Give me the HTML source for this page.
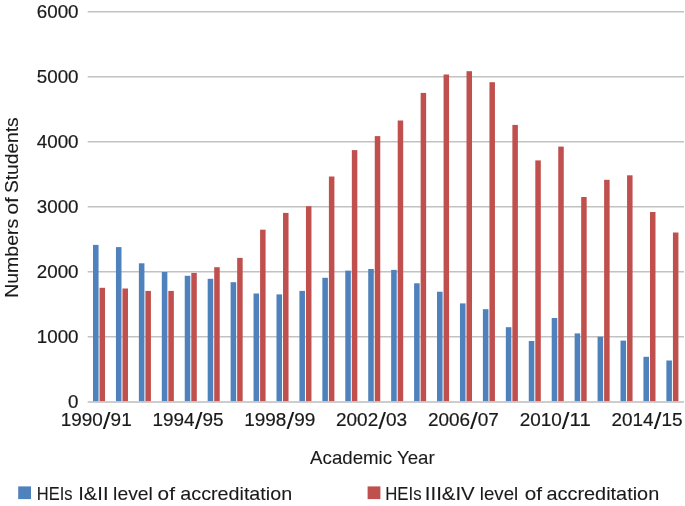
<!DOCTYPE html>
<html><head><meta charset="utf-8"><title>Chart</title>
<style>
html,body{margin:0;padding:0;background:#fff;}
body{width:685px;height:506px;overflow:hidden;}
svg{display:block;}
text{font-family:"Liberation Sans",sans-serif;fill:#1a1a1a;stroke:#1a1a1a;stroke-width:0.1px;font-size:19px;}
text.n{font-size:19.2px;stroke-width:0.2px;}
</style></head><body>
<svg width="685" height="506" viewBox="0 0 685 506">
<rect width="685" height="506" fill="#fff"/>
<line x1="87.7" x2="684" y1="11.75" y2="11.75" stroke="#c2c2c2" stroke-width="1.4"/>
<line x1="87.7" x2="684" y1="76.75" y2="76.75" stroke="#c2c2c2" stroke-width="1.4"/>
<line x1="87.7" x2="684" y1="141.75" y2="141.75" stroke="#c2c2c2" stroke-width="1.4"/>
<line x1="87.7" x2="684" y1="206.75" y2="206.75" stroke="#c2c2c2" stroke-width="1.4"/>
<line x1="87.7" x2="684" y1="271.75" y2="271.75" stroke="#c2c2c2" stroke-width="1.4"/>
<line x1="87.7" x2="684" y1="336.75" y2="336.75" stroke="#c2c2c2" stroke-width="1.4"/>
<rect x="93.00" y="244.90" width="5.55" height="156.40" fill="#4f81bd"/><rect x="99.55" y="287.80" width="5.5" height="113.50" fill="#c0504d"/>
<rect x="115.94" y="247.10" width="5.55" height="154.20" fill="#4f81bd"/><rect x="122.48" y="288.50" width="5.5" height="112.80" fill="#c0504d"/>
<rect x="138.87" y="263.30" width="5.55" height="138.00" fill="#4f81bd"/><rect x="145.42" y="290.90" width="5.5" height="110.40" fill="#c0504d"/>
<rect x="161.81" y="272.00" width="5.55" height="129.30" fill="#4f81bd"/><rect x="168.35" y="290.90" width="5.5" height="110.40" fill="#c0504d"/>
<rect x="184.74" y="275.80" width="5.55" height="125.50" fill="#4f81bd"/><rect x="191.29" y="272.90" width="5.5" height="128.40" fill="#c0504d"/>
<rect x="207.68" y="278.80" width="5.55" height="122.50" fill="#4f81bd"/><rect x="214.22" y="267.20" width="5.5" height="134.10" fill="#c0504d"/>
<rect x="230.61" y="282.20" width="5.55" height="119.10" fill="#4f81bd"/><rect x="237.16" y="257.90" width="5.5" height="143.40" fill="#c0504d"/>
<rect x="253.54" y="293.50" width="5.55" height="107.80" fill="#4f81bd"/><rect x="260.09" y="229.70" width="5.5" height="171.60" fill="#c0504d"/>
<rect x="276.48" y="294.40" width="5.55" height="106.90" fill="#4f81bd"/><rect x="283.03" y="212.90" width="5.5" height="188.40" fill="#c0504d"/>
<rect x="299.41" y="290.90" width="5.55" height="110.40" fill="#4f81bd"/><rect x="305.96" y="206.20" width="5.5" height="195.10" fill="#c0504d"/>
<rect x="322.35" y="277.80" width="5.55" height="123.50" fill="#4f81bd"/><rect x="328.90" y="176.50" width="5.5" height="224.80" fill="#c0504d"/>
<rect x="345.28" y="270.60" width="5.55" height="130.70" fill="#4f81bd"/><rect x="351.83" y="150.10" width="5.5" height="251.20" fill="#c0504d"/>
<rect x="368.22" y="269.00" width="5.55" height="132.30" fill="#4f81bd"/><rect x="374.77" y="136.10" width="5.5" height="265.20" fill="#c0504d"/>
<rect x="391.15" y="269.90" width="5.55" height="131.40" fill="#4f81bd"/><rect x="397.70" y="120.50" width="5.5" height="280.80" fill="#c0504d"/>
<rect x="414.09" y="283.30" width="5.55" height="118.00" fill="#4f81bd"/><rect x="420.64" y="92.90" width="5.5" height="308.40" fill="#c0504d"/>
<rect x="437.02" y="291.70" width="5.55" height="109.60" fill="#4f81bd"/><rect x="443.57" y="74.50" width="5.5" height="326.80" fill="#c0504d"/>
<rect x="459.96" y="303.40" width="5.55" height="97.90" fill="#4f81bd"/><rect x="466.51" y="71.20" width="5.5" height="330.10" fill="#c0504d"/>
<rect x="482.89" y="309.20" width="5.55" height="92.10" fill="#4f81bd"/><rect x="489.44" y="82.20" width="5.5" height="319.10" fill="#c0504d"/>
<rect x="505.83" y="327.20" width="5.55" height="74.10" fill="#4f81bd"/><rect x="512.38" y="124.90" width="5.5" height="276.40" fill="#c0504d"/>
<rect x="528.76" y="341.00" width="5.55" height="60.30" fill="#4f81bd"/><rect x="535.31" y="160.40" width="5.5" height="240.90" fill="#c0504d"/>
<rect x="551.70" y="318.00" width="5.55" height="83.30" fill="#4f81bd"/><rect x="558.25" y="146.60" width="5.5" height="254.70" fill="#c0504d"/>
<rect x="574.63" y="333.40" width="5.55" height="67.90" fill="#4f81bd"/><rect x="581.18" y="197.00" width="5.5" height="204.30" fill="#c0504d"/>
<rect x="597.57" y="336.70" width="5.55" height="64.60" fill="#4f81bd"/><rect x="604.12" y="179.80" width="5.5" height="221.50" fill="#c0504d"/>
<rect x="620.50" y="340.60" width="5.55" height="60.70" fill="#4f81bd"/><rect x="627.05" y="175.30" width="5.5" height="226.00" fill="#c0504d"/>
<rect x="643.44" y="356.80" width="5.55" height="44.50" fill="#4f81bd"/><rect x="649.99" y="212.00" width="5.5" height="189.30" fill="#c0504d"/>
<rect x="666.38" y="360.50" width="5.55" height="40.80" fill="#4f81bd"/><rect x="672.92" y="232.50" width="5.5" height="168.80" fill="#c0504d"/>
<line x1="87.7" x2="684" y1="402.0" y2="402.0" stroke="#bdbdbd" stroke-width="1.6"/>
<text class="n" y="18.25"><tspan x="36.78" textLength="41.75" lengthAdjust="spacingAndGlyphs">6000</tspan></text>
<text class="n" y="83.25"><tspan x="36.78" textLength="41.75" lengthAdjust="spacingAndGlyphs">5000</tspan></text>
<text class="n" y="148.25"><tspan x="36.78" textLength="41.75" lengthAdjust="spacingAndGlyphs">4000</tspan></text>
<text class="n" y="213.25"><tspan x="36.78" textLength="41.75" lengthAdjust="spacingAndGlyphs">3000</tspan></text>
<text class="n" y="278.25"><tspan x="36.78" textLength="41.75" lengthAdjust="spacingAndGlyphs">2000</tspan></text>
<text class="n" y="343.25"><tspan x="36.78" textLength="41.75" lengthAdjust="spacingAndGlyphs">1000</tspan></text>
<text class="n" y="408.20"><tspan x="68.08" textLength="10.40" lengthAdjust="spacingAndGlyphs">0</tspan></text>
<text class="n" y="426.2"><tspan x="60.68" textLength="42.08" lengthAdjust="spacingAndGlyphs">1990</tspan><tspan x="102.88" font-size="23.6" stroke="none" dy="2.6" textLength="7.79" lengthAdjust="spacingAndGlyphs">/</tspan><tspan x="110.58" dy="-2.6" textLength="21.13" lengthAdjust="spacingAndGlyphs">91</tspan></text>
<text class="n" y="426.2"><tspan x="152.48" textLength="42.08" lengthAdjust="spacingAndGlyphs">1994</tspan><tspan x="194.68" font-size="23.6" stroke="none" dy="2.6" textLength="7.79" lengthAdjust="spacingAndGlyphs">/</tspan><tspan x="202.38" dy="-2.6" textLength="21.13" lengthAdjust="spacingAndGlyphs">95</tspan></text>
<text class="n" y="426.2"><tspan x="244.28" textLength="42.08" lengthAdjust="spacingAndGlyphs">1998</tspan><tspan x="286.48" font-size="23.6" stroke="none" dy="2.6" textLength="7.79" lengthAdjust="spacingAndGlyphs">/</tspan><tspan x="294.18" dy="-2.6" textLength="21.13" lengthAdjust="spacingAndGlyphs">99</tspan></text>
<text class="n" y="426.2"><tspan x="336.08" textLength="42.08" lengthAdjust="spacingAndGlyphs">2002</tspan><tspan x="378.28" font-size="23.6" stroke="none" dy="2.6" textLength="7.79" lengthAdjust="spacingAndGlyphs">/</tspan><tspan x="385.98" dy="-2.6" textLength="21.13" lengthAdjust="spacingAndGlyphs">03</tspan></text>
<text class="n" y="426.2"><tspan x="427.88" textLength="42.08" lengthAdjust="spacingAndGlyphs">2006</tspan><tspan x="470.08" font-size="23.6" stroke="none" dy="2.6" textLength="7.79" lengthAdjust="spacingAndGlyphs">/</tspan><tspan x="477.78" dy="-2.6" textLength="21.13" lengthAdjust="spacingAndGlyphs">07</tspan></text>
<text class="n" y="426.2"><tspan x="519.68" textLength="42.08" lengthAdjust="spacingAndGlyphs">2010</tspan><tspan x="561.88" font-size="23.6" stroke="none" dy="2.6" textLength="7.79" lengthAdjust="spacingAndGlyphs">/</tspan><tspan x="569.58" dy="-2.6" textLength="21.13" lengthAdjust="spacingAndGlyphs">11</tspan></text>
<text class="n" y="426.2"><tspan x="611.48" textLength="42.08" lengthAdjust="spacingAndGlyphs">2014</tspan><tspan x="653.68" font-size="23.6" stroke="none" dy="2.6" textLength="7.79" lengthAdjust="spacingAndGlyphs">/</tspan><tspan x="661.38" dy="-2.6" textLength="21.13" lengthAdjust="spacingAndGlyphs">15</tspan></text>
<text y="463.6"><tspan x="310.12" textLength="124.53" lengthAdjust="spacingAndGlyphs">Academic Year</tspan></text>
<text transform="translate(17.7,296.2) rotate(-90)"><tspan x="-1.63" textLength="79.15" lengthAdjust="spacingAndGlyphs">Numbers</tspan> <tspan x="81.77" textLength="17.25" lengthAdjust="spacingAndGlyphs">of</tspan> <tspan x="103.20" textLength="75.64" lengthAdjust="spacingAndGlyphs">Students</tspan></text>
<rect x="18.2" y="486.4" width="12.8" height="12.7" fill="#4f81bd"/>
<text y="499.7"><tspan x="36.83" textLength="35.73" lengthAdjust="spacingAndGlyphs">HEIs</tspan> <tspan x="78.25" textLength="30.25" lengthAdjust="spacingAndGlyphs">I&amp;II</tspan> <tspan x="113.11" textLength="39.69" lengthAdjust="spacingAndGlyphs">level</tspan> <tspan x="157.64" textLength="17.32" lengthAdjust="spacingAndGlyphs">of</tspan> <tspan x="180.33" textLength="111.78" lengthAdjust="spacingAndGlyphs">accreditation</tspan></text>
<rect x="367.6" y="486.4" width="12.8" height="12.7" fill="#c0504d"/>
<text y="499.7"><tspan x="385.22" textLength="36.33" lengthAdjust="spacingAndGlyphs">HEIs</tspan> <tspan x="424.84" textLength="49.91" lengthAdjust="spacingAndGlyphs">III&amp;IV</tspan> <tspan x="479.87" textLength="38.30" lengthAdjust="spacingAndGlyphs">level</tspan> <tspan x="524.66" textLength="17.29" lengthAdjust="spacingAndGlyphs">of</tspan> <tspan x="546.46" textLength="112.79" lengthAdjust="spacingAndGlyphs">accreditation</tspan></text>
</svg></body></html>
